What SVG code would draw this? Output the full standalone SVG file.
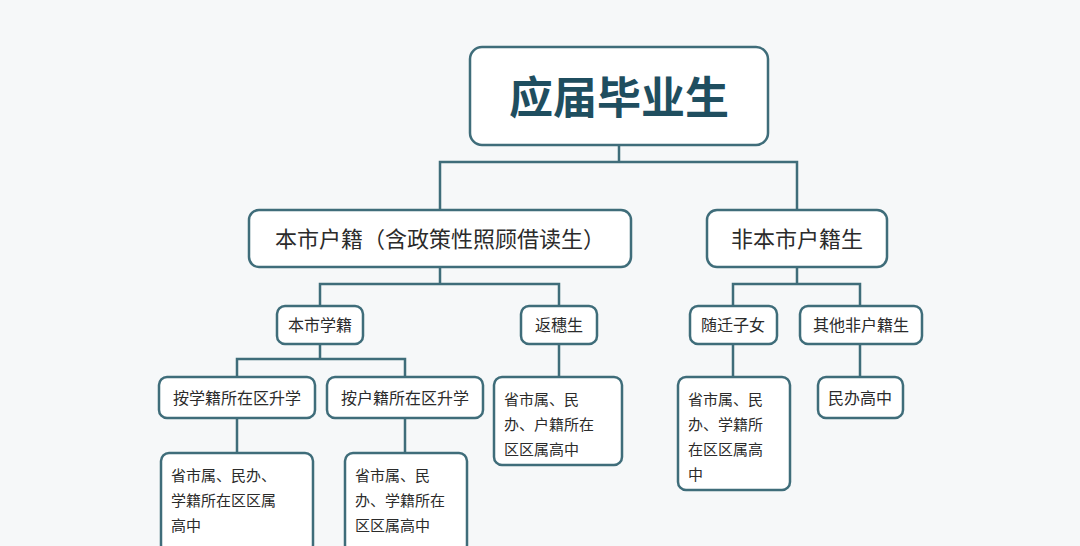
<svg xmlns="http://www.w3.org/2000/svg" width="1080" height="546" viewBox="0 0 1080 546">
<style>
.b{fill:#fff;stroke:#3f6d7a;stroke-width:2.5}
.c{fill:none;stroke:#3f6d7a;stroke-width:2.5}
text{font-family:"Noto Sans CJK SC",sans-serif;fill:#2b2b2b}
.s{font-size:15px}
.m{font-size:22px;text-anchor:middle}
.n{font-size:16px;text-anchor:middle}
</style>
<rect width="1080" height="546" fill="#f6f8f9"/>
<g id="connectors">
<path class="c" d="M619 145V162M440 210V162H797V210"/>
<path class="c" d="M440 267V284M320 306V284H559V306M797 267V284M733 306V284H860V306"/>
<path class="c" d="M320 344V359M237 377V359H405V377"/>
<path class="c" d="M237 418V453M405 418V453M559 344V377M733 344V377M860 344V377"/>
</g>
<g id="root"><rect class="b" x="470" y="47" width="298" height="98" rx="12"/><text x="619" y="114" font-size="44" font-weight="bold" text-anchor="middle" style="fill:#1f4e5f">应届毕业生</text></g>
<g id="local"><rect class="b" x="249" y="210" width="382" height="57" rx="10"/><text class="m" x="440" y="247">本市户籍（含政策性照顾借读生）</text></g>
<g id="nonlocal"><rect class="b" x="707" y="210" width="180" height="57" rx="10"/><text class="m" x="797" y="247">非本市户籍生</text></g>
<g id="bsxj"><rect class="b" x="277" y="306" width="86" height="38" rx="8"/><text class="n" x="320" y="331">本市学籍</text></g>
<g id="fss"><rect class="b" x="521" y="306" width="76" height="38" rx="8"/><text class="n" x="559" y="331">返穗生</text></g>
<g id="sqzn"><rect class="b" x="690" y="306" width="87" height="38" rx="8"/><text class="n" x="733" y="331">随迁子女</text></g>
<g id="qt"><rect class="b" x="800" y="306" width="122" height="38" rx="8"/><text class="n" x="861" y="331">其他非户籍生</text></g>
<g id="axj"><rect class="b" x="159" y="377" width="156" height="41" rx="8"/><text class="n" x="237" y="404">按学籍所在区升学</text></g>
<g id="ahj"><rect class="b" x="327" y="377" width="156" height="41" rx="8"/><text class="n" x="405" y="404">按户籍所在区升学</text></g>
<g id="leaf1"><rect class="b" x="161" y="453" width="152" height="100" rx="8"/><text class="s" x="171" y="481">省市属、民办、</text><text class="s" x="171" y="506">学籍所在区区属</text><text class="s" x="171" y="531">高中</text></g>
<g id="leaf2"><rect class="b" x="345" y="453" width="122" height="100" rx="8"/><text class="s" x="355" y="481">省市属、民</text><text class="s" x="355" y="506">办、学籍所在</text><text class="s" x="355" y="531">区区属高中</text></g>
<g id="leaf3"><rect class="b" x="494" y="377" width="128" height="88" rx="8"/><text class="s" x="504" y="405">省市属、民</text><text class="s" x="504" y="430">办、户籍所在</text><text class="s" x="504" y="455">区区属高中</text></g>
<g id="leaf4"><rect class="b" x="678" y="377" width="112" height="113" rx="8"/><text class="s" x="688" y="405">省市属、民</text><text class="s" x="688" y="430">办、学籍所</text><text class="s" x="688" y="455">在区区属高</text><text class="s" x="688" y="480">中</text></g>
<g id="leaf5"><rect class="b" x="818" y="377" width="85" height="41" rx="8"/><text class="n" x="860" y="404">民办高中</text></g>
</svg>
